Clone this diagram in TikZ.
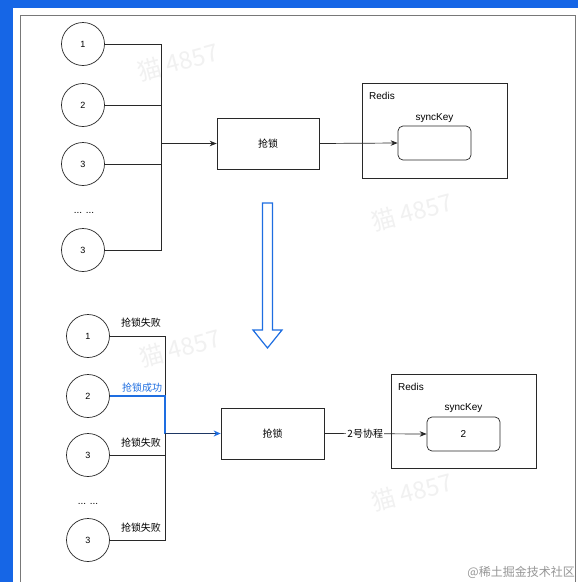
\documentclass[tikz,border=0pt]{standalone}
\usepackage{fontspec}
\setmainfont{Liberation Sans}
\newfontfamily\cjk{Noto Sans CJK SC}
\usetikzlibrary{arrows.meta}
\definecolor{bgblue}{RGB}{22,102,230}
\definecolor{frame}{RGB}{120,120,120}
\definecolor{ln}{RGB}{40,40,40}
\definecolor{okblue}{RGB}{30,110,225}
\definecolor{navy}{RGB}{30,55,100}
\definecolor{wm}{RGB}{241,241,241}
\definecolor{foot}{RGB}{150,150,150}
\tikzset{
  proc/.style={circle,draw=ln,line width=0.7pt,minimum size=43pt,inner sep=0pt,font=\fontsize{9}{10}\selectfont},
  boxx/.style={draw=ln,line width=0.7pt,minimum width=102pt,minimum height=51pt,inner sep=0pt,font=\cjk\fontsize{10}{12}\selectfont},
  redisbox/.style={draw=ln,line width=0.7pt,minimum width=145pt,minimum height=95pt,inner sep=0pt},
  keybox/.style={draw=ln,line width=0.7pt,rounded corners=5pt,minimum width=73pt,minimum height=34pt,inner sep=0pt,font=\fontsize{10}{12}\selectfont},
  lbl/.style={font=\fontsize{10}{12}\selectfont,inner sep=0pt},
  cjklbl/.style={font=\cjk\fontsize{10}{12}\selectfont,inner sep=0pt},
  wire/.style={draw=ln,line width=0.7pt},
  arr/.style={wire,-{Stealth[length=7pt,width=5.5pt]}},
  watermark/.style={text=wm,font=\cjk\fontsize{24}{26}\selectfont,rotate=15,inner sep=0pt}
}
\begin{document}
\begin{tikzpicture}[x=1pt,y=-1pt]
\useasboundingbox (0,0) rectangle (578,582);
% background
\fill[bgblue] (0,0) rectangle (578,582);
\fill[white] (13,8) rectangle (578,582);
\draw[frame,line width=1pt] (20,582) -- (20,15) -- (575,15) -- (575,582);
% watermarks
\node[watermark] (w1) at (178,62) {猫 4857};
\node[watermark] (w2) at (412,212) {猫 4857};
\node[watermark] (w3) at (180,348) {猫 4857};
\node[watermark] (w4) at (412,492) {猫 4857};
% ---------- top ----------
\node[proc] (t1) at (83,44) {1};
\node[proc] (t2) at (83,105) {2};
\node[proc] (t3) at (83,164) {3};
\node[lbl] (tdots) at (84,213) {... ...};
\node[proc] (t4) at (83,250) {3};
\coordinate (jt) at (161,143.5);
\node[boxx] (lockT) at (268,143.5) {抢锁};
\node[redisbox] (redisT) at (434.5,130.5) {};
\node[lbl,anchor=west] (redisTl) at (369,96) {Redis};
\node[lbl] (syncTl) at (434.5,118) {syncKey};
\node[keybox] (keyT) at (434.5,143) {};
\draw[wire] (t1.east) -| (jt);
\draw[wire] (t2.east) -| (jt);
\draw[wire] (t3.east) -| (jt);
\draw[wire] (t4.east) -| (jt);
\draw[arr] (jt) -- (lockT.west);
\draw[arr] (lockT.east) -- (keyT.west);
% hollow arrow
\draw[okblue,line width=1.2pt,fill=white,line join=miter]
  (262.5,203) -- (272.5,203) -- (272.5,330) -- (282,330) -- (267.5,348) -- (253,330) -- (262.5,330) -- cycle;
% ---------- bottom ----------
\node[proc] (b1) at (88,336) {1};
\node[proc] (b2) at (88,396) {2};
\node[proc] (b3) at (88,455) {3};
\node[lbl] (bdots) at (88,504) {... ...};
\node[proc] (b4) at (88,540) {3};
\coordinate (jb) at (165,433.5);
\node[boxx,minimum width=103pt] (lockB) at (272.5,433.5) {抢锁};
\node[redisbox,minimum height=94pt] (redisB) at (463.5,421) {};
\node[lbl,anchor=west] (redisBl) at (398,387) {Redis};
\node[lbl] (syncBl) at (463.5,408) {syncKey};
\node[keybox] (keyB) at (463.5,434) {2};
\node[cjklbl] (f1) at (141,323) {抢锁失败};
\node[cjklbl,text=okblue] (s2) at (142,388) {抢锁成功};
\node[cjklbl] (f3) at (141,443) {抢锁失败};
\node[cjklbl] (f4) at (141,528) {抢锁失败};
\draw[wire] (b1.east) -| (jb);
\draw[wire] (b3.east) -| (jb);
\draw[wire] (b4.east) -| (jb);
\draw[okblue,line width=1.2pt] (b2.east) -| (jb);
\draw[navy,line width=1.3pt,-{Stealth[length=7pt,width=6pt,color=okblue]}] (jb) -- (lockB.west);
\draw[arr] (lockB.east) -- node[pos=0.4,cjklbl,fill=white,inner sep=1pt] (lab2) {2号协程} (keyB.west);
% footer
\node[anchor=east,text=foot,font=\cjk\fontsize{12}{14}\selectfont,inner sep=0pt] (footer) at (575,572) {@稀土掘金技术社区};
\end{tikzpicture}
\end{document}
